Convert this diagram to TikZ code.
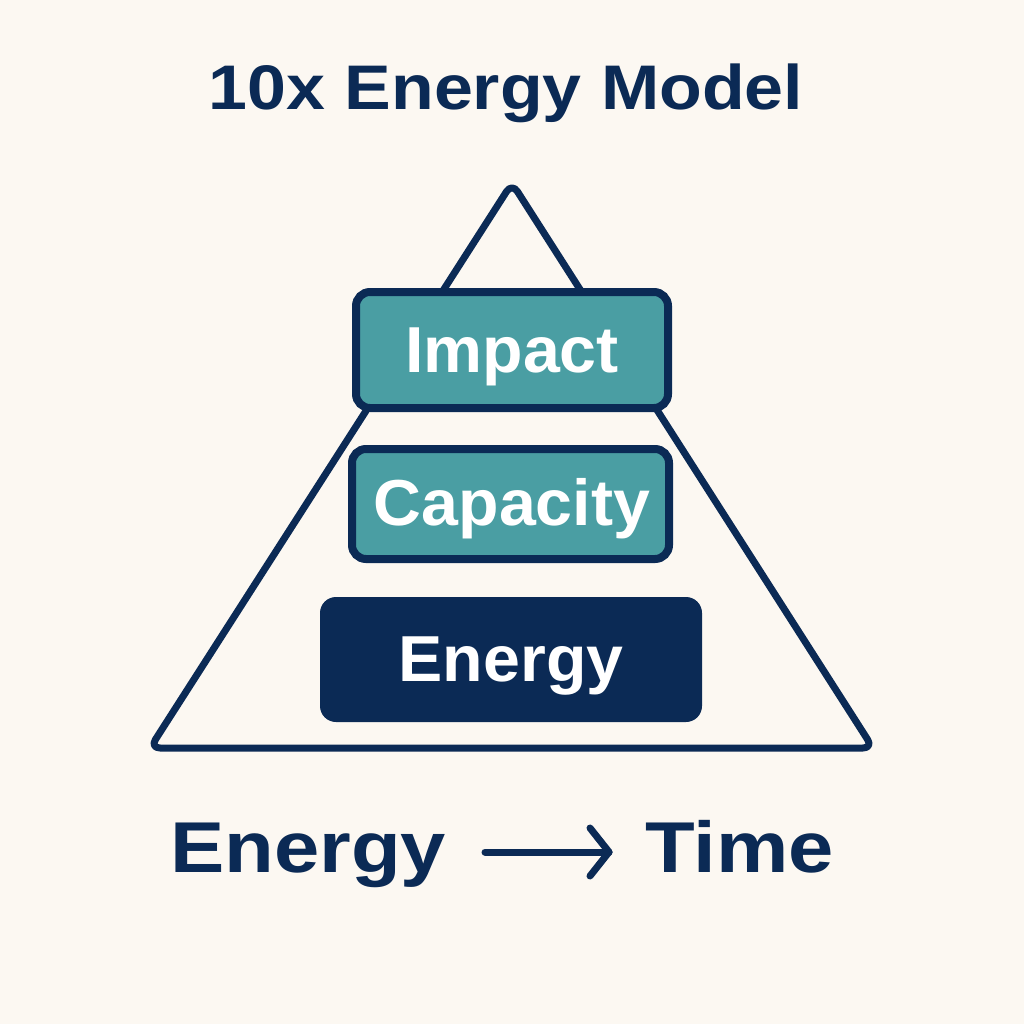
\documentclass[tikz,border=0pt]{standalone}
\usepackage{fontspec}
\setmainfont{Liberation Sans}
\newfontfamily\titlefont[FakeStretch=1.11]{Liberation Sans}
\newfontfamily\bottomfont[FakeStretch=1.13]{Liberation Sans}
\newfontfamily\boxfont[FakeStretch=1.02]{Liberation Sans}
\definecolor{bgcream}{HTML}{FCF8F2}
\definecolor{navy}{HTML}{0B2A55}
\definecolor{tealfill}{HTML}{4A9EA3}
\usetikzlibrary{arrows.meta}
\begin{document}
\begin{tikzpicture}[x=1pt,y=-1pt,
  tri/.style={draw=navy,line width=7pt,rounded corners=10pt,line join=round},
  tealbox/.style={draw=navy,fill=tealfill,line width=8pt,rounded corners=14pt,inner sep=0pt},
  navybox/.style={fill=navy,rounded corners=16pt,inner sep=0pt},
  boxlabel/.style={text=white,anchor=base,inner sep=0pt,font=\boxfont\bfseries\fontsize{65}{70}\selectfont},
  titlestyle/.style={text=navy,anchor=base,inner sep=0pt,font=\titlefont\bfseries\fontsize{63}{70}\selectfont},
  bottomstyle/.style={text=navy,inner sep=0pt,font=\bottomfont\bfseries\fontsize{72}{80}\selectfont},
  arrowline/.style={draw=navy,line width=7pt,line cap=round,line join=round}
]
\fill[bgcream] (0,0) rectangle (1024,1024);
\useasboundingbox (0,0) rectangle (1024,1024);

\node[titlestyle] (title) at (506,110) {10x Energy Model};

\coordinate (apex) at (512,183);
\coordinate (bl) at (150,748);
\coordinate (br) at (873,748);
\draw[tri] (apex) -- (br) -- (bl) -- cycle;

\node[tealbox,minimum width=312pt,minimum height=116pt] (impact) at (512,350) {};
\node[boxlabel] (impactlabel) at (512,372) {Impact};

\node[tealbox,minimum width=317pt,minimum height=110pt] (capacity) at (510.5,504) {};
\node[boxlabel] (capacitylabel) at (512,525) {Capacity};

\node[navybox,minimum width=382pt,minimum height=125pt] (energy) at (511,659.5) {};
\node[boxlabel] (energylabel) at (511,681) {Energy};

\node[bottomstyle,anchor=base west] (benergy) at (170,872) {Energy};
\node[bottomstyle,anchor=base west] (btime) at (645,872) {Time};

\coordinate (arrs) at (485,852);
\coordinate (arre) at (609,852);
\draw[arrowline] (arrs) -- (arre);
\draw[arrowline] (arre) ++(-19,-24) -- (arre) -- ++(-19,24);
\end{tikzpicture}
\end{document}
